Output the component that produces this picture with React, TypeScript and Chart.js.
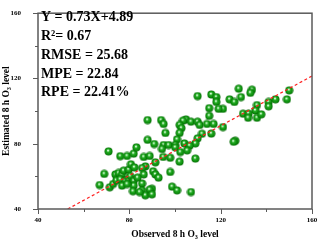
import React, { useEffect, useRef } from "react";
import { Chart, registerables } from "chart.js";
Chart.register(...registerables);

const observed = [
  127.9, 133.7, 133, 123.9, 126, 128.9, 121, 135.9, 141, 141, 144, 150, 149, 135.2, 129.8, 132.2, 132, 135.9, 137.8, 121, 126.4, 125.7,
  109.9, 115.9, 118.1, 118.1, 115, 119.1, 115, 88, 93.9, 95, 104.8, 103.5, 107, 109.9, 110.8, 102, 102.8, 114, 116.9, 95.8, 102, 111.8, 115.9, 109.9, 100.9, 88, 90.9, 95, 97.2, 100.1, 104.1, 108.9, 106.4,
  94.3, 100.1, 102.3, 105.3, 86.3, 88.9, 94.8, 97.9, 108.9, 102, 91.4, 87, 85.6, 90.4, 97.9, 86.3, 91.4, 92.8, 85.6, 89.9, 88.9, 85.6, 87, 89.9, 98.7, 100.9, 107,
  70.9, 76, 79, 81.9, 83.1, 69, 67, 71.4, 72.9, 73.9, 75.3, 76.8, 77.5, 79.7, 80.7, 82.2, 74.3, 76, 78.2, 79.7, 80.4, 81.9, 83.6, 81.9, 81.6, 84.5, 76.8, 79,
];
const estimated = [
  113.7, 113.1, 111.2, 107.2, 105.6, 108.6, 101.4, 103.7, 105.6, 102.9, 107.2, 112.7, 107.2, 100.4, 98.4, 98.4, 95.9, 95.9, 98, 90.2, 81.8, 81.2,
  109.2, 110.2, 108.6, 105.6, 101.8, 101.4, 97.1, 94.5, 94.5, 92.1, 94.9, 94.1, 93.5, 93.5, 91.5, 91.5, 89.6, 92.1, 92.1, 86.6, 86.6, 86.1, 86.2, 83.3, 82.7, 82.4, 79.8, 79.2, 79.2, 79.2, 80.2, 80.2, 78.8,
  76.8, 77.8, 74.9, 75.9, 71.9, 72.5, 71.9, 71.4, 70.9, 69, 68.6, 66.1, 65.1, 63.1, 62.7, 61.2, 61.2, 59.2, 55.6, 52.4, 51.8, 51.4, 48.4, 49, 53.7, 51.4, 50.4,
  75.3, 72.4, 72.5, 73.9, 77.8, 61.5, 54.7, 53.3, 55.3, 61.2, 62.1, 61.2, 63.5, 64.1, 67.4, 65.5, 57.6, 58.2, 57.2, 58.2, 60.2, 57.2, 59.2, 54.3, 50.9, 50.4, 54.3, 55.3,
];
const fitX = [53, 160];
const fitY = [40, 121.5];
const majorTicks = [40, 80, 120, 160];
const minorTicks = [60, 100, 140];
const statLines = ["Y = 0.73X+4.89", "R²= 0.67", "RMSE = 25.68", "MPE = 22.84", "RPE = 22.41%"];
const xTitle = ["Observed 8 h O", "3", " level"];
const yTitle = ["Estimated 8 h O", "3", " level"];

const SERIF = "'Liberation Serif', 'Times New Roman', serif";

function makeBall(): HTMLCanvasElement {
  const b = document.createElement("canvas");
  b.width = 9;
  b.height = 9;
  const c = b.getContext("2d")!;
  const g = c.createRadialGradient(3.9, 3.3, 0.1, 4.5, 4.5, 4.2);
  g.addColorStop(0, "#ffffff");
  g.addColorStop(0.15, "#b8f2b8");
  g.addColorStop(0.35, "#27ad27");
  g.addColorStop(0.75, "#0b8c0b");
  g.addColorStop(1, "#036403");
  c.fillStyle = g;
  c.beginPath();
  c.arc(4.5, 4.5, 4, 0, Math.PI * 2);
  c.fill();
  return b;
}

function drawSubText(ctx: CanvasRenderingContext2D, parts: string[], size: number) {
  const main = `bold ${size}px ${SERIF}`;
  const sub = `bold ${size * 0.65}px ${SERIF}`;
  ctx.font = main;
  const w0 = ctx.measureText(parts[0]).width;
  const w2 = ctx.measureText(parts[2]).width;
  ctx.font = sub;
  const w1 = ctx.measureText(parts[1]).width;
  const total = w0 + w1 + w2;
  let x = -total / 2;
  ctx.textAlign = "left";
  ctx.textBaseline = "alphabetic";
  ctx.font = main;
  ctx.fillText(parts[0], x, 0);
  x += w0;
  ctx.font = sub;
  ctx.fillText(parts[1], x, size * 0.25);
  x += w1;
  ctx.font = main;
  ctx.fillText(parts[2], x, 0);
}

const decor = {
  id: "decor",
  afterDatasetsDraw(chart: any) {
    const ctx: CanvasRenderingContext2D = chart.ctx;
    const a = chart.chartArea;
    const xs = chart.scales.x;
    const ys = chart.scales.y;
    ctx.save();
    ctx.strokeStyle = "#5a5a5a";
    ctx.lineWidth = 1.5;
    ctx.strokeRect(a.left, a.top, a.right - a.left, a.bottom - a.top);
    ctx.lineWidth = 1;
    ctx.beginPath();
    majorTicks.forEach((v) => {
      const px = Math.round(xs.getPixelForValue(v)) + 0.5;
      ctx.moveTo(px, a.bottom);
      ctx.lineTo(px, a.bottom + 5);
      const py = Math.round(ys.getPixelForValue(v)) + 0.5;
      ctx.moveTo(a.left, py);
      ctx.lineTo(a.left - 5, py);
    });
    minorTicks.forEach((v) => {
      const px = Math.round(xs.getPixelForValue(v)) + 0.5;
      ctx.moveTo(px, a.bottom);
      ctx.lineTo(px, a.bottom + 3);
      const py = Math.round(ys.getPixelForValue(v)) + 0.5;
      ctx.moveTo(a.left, py);
      ctx.lineTo(a.left - 3, py);
    });
    ctx.stroke();
    ctx.restore();
  },
  afterDraw(chart: any) {
    const ctx: CanvasRenderingContext2D = chart.ctx;
    const a = chart.chartArea;
    ctx.save();
    ctx.fillStyle = "#000";
    ctx.font = `bold 14px ${SERIF}`;
    ctx.textAlign = "left";
    ctx.textBaseline = "middle";
    const rows = [17, 36.5, 55.5, 74, 92];
    statLines.forEach((t, i) => ctx.fillText(t, a.left + 3, rows[i]));
    ctx.save();
    ctx.translate((a.left + a.right) / 2, 236.5);
    drawSubText(ctx, xTitle, 9.5);
    ctx.restore();
    ctx.save();
    ctx.translate(9, (a.top + a.bottom) / 2);
    ctx.rotate(-Math.PI / 2);
    drawSubText(ctx, yTitle, 9.5);
    ctx.restore();
    ctx.restore();
  },
};

export default function App() {
  const ref = useRef<HTMLCanvasElement | null>(null);
  useEffect(() => {
    document.body.style.margin = "0";
    const ball = makeBall();
    const tickFont = { family: SERIF, size: 7, weight: "bold" as const };
    const chart = new Chart(ref.current!, {
      type: "scatter",
      data: {
        datasets: [
          {
            data: fitX.map((x, i) => ({ x, y: fitY[i] })),
            showLine: true,
            borderColor: "#ff2020",
            borderWidth: 1.2,
            borderDash: [3, 2.5],
            pointRadius: 0,
            order: 0,
          },
          {
            data: observed.map((x, i) => ({ x, y: estimated[i] })),
            pointStyle: ball as any,
            pointRadius: 4,
            order: 1,
          },
        ],
      },
      options: {
        animation: false,
        responsive: false,
        devicePixelRatio: 1,
        layout: { padding: { top: 5, right: 8, left: 0, bottom: 0 } },
        plugins: { legend: { display: false }, tooltip: { enabled: false } },
        scales: {
          x: {
            type: "linear",
            min: 40,
            max: 160,
            ticks: { stepSize: 40, font: tickFont, color: "#000", padding: -1 },
            grid: { display: false },
            border: { display: false },
            afterFit: (s: any) => {
              s.height = 35;
            },
          },
          y: {
            type: "linear",
            min: 40,
            max: 160,
            ticks: { stepSize: 40, font: tickFont, color: "#000", padding: 9 },
            grid: { display: false },
            border: { display: false },
            afterFit: (s: any) => {
              s.width = 38;
            },
          },
        },
      },
      plugins: [decor],
    });
    return () => chart.destroy();
  }, []);
  return (
    <div style={{ width: 320, height: 244 }}>
      <canvas ref={ref} width={320} height={244} style={{ display: "block" }} />
    </div>
  );
}
